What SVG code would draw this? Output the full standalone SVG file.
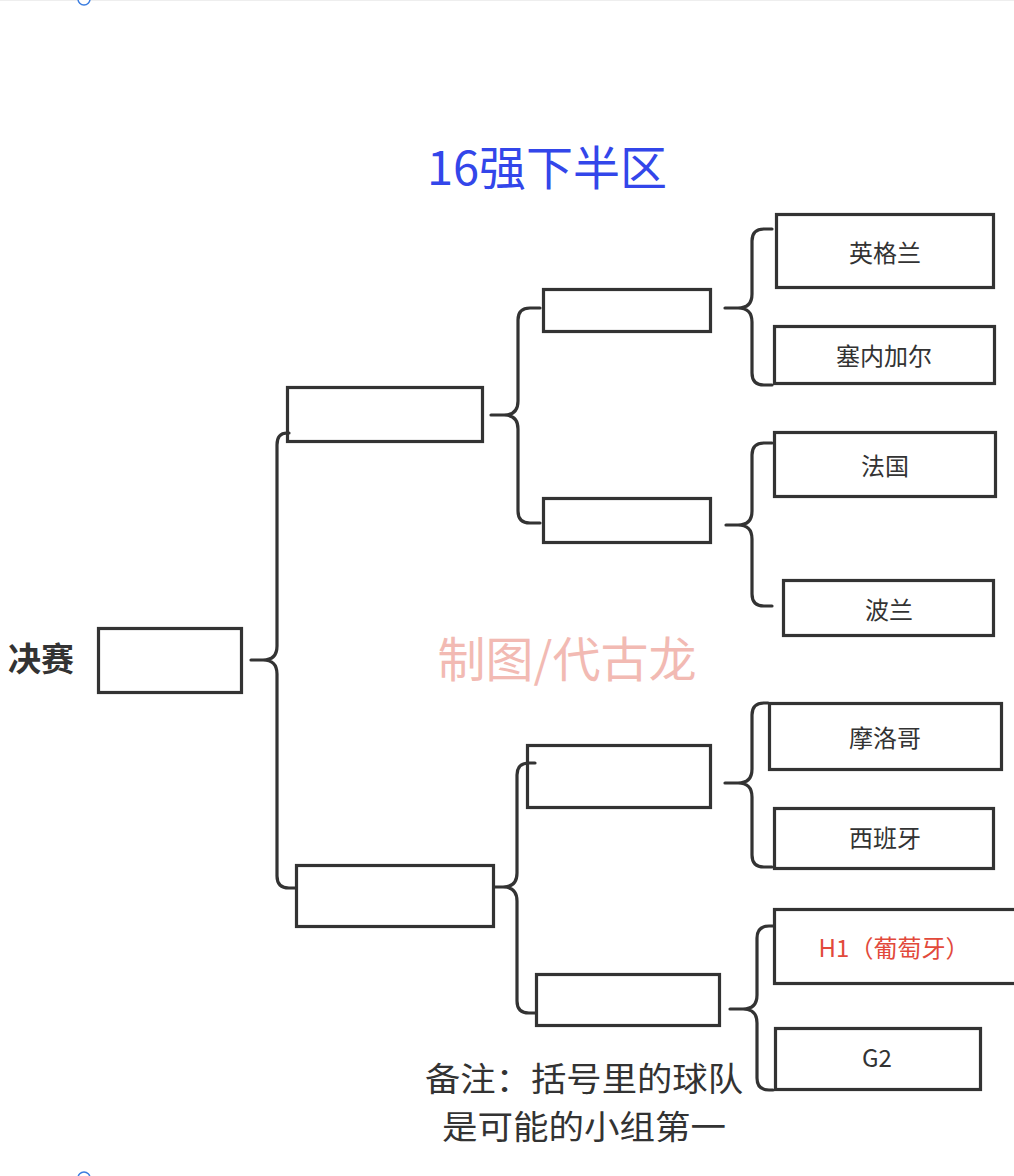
<svg xmlns="http://www.w3.org/2000/svg" width="1014" height="1176" viewBox="0 0 1014 1176">
<style>
.box{fill:#fff;stroke:#333;stroke-width:3.2}
.br{fill:none;stroke:#333;stroke-width:3.2;stroke-linecap:round;stroke-linejoin:round}
.t{font-family:"Noto Sans CJK SC","Noto Sans",sans-serif;font-size:24px;fill:#333;text-anchor:middle}
</style>
<rect x="0" y="0" width="1014" height="1176" fill="#fff"/>
<line x1="0" y1="0.5" x2="1014" y2="0.5" stroke="#eeeeee" stroke-width="1"/>
<circle cx="84" cy="-1" r="6" fill="#fff" stroke="#3b7de0" stroke-width="1.5"/>
<circle cx="84" cy="1178" r="6" fill="#fff" stroke="#3b7de0" stroke-width="1.5"/>
<text x="547" y="185" font-family="Noto Sans CJK SC, Noto Sans, sans-serif" font-size="47" fill="#3346ea" text-anchor="middle">16强下半区</text>
<text x="567" y="677" font-family="Noto Sans CJK SC, Noto Sans, sans-serif" font-size="48" fill="#f2bab3" text-anchor="middle">制图/代古龙</text>
<text x="8" y="671" font-family="Noto Sans CJK SC, Noto Sans, sans-serif" font-size="33" font-weight="bold" fill="#333">决赛</text>
<g id="nodes">
<g id="final"><rect class="box" x="98.5" y="628.5" width="143" height="64"/></g>
<g id="semi1"><rect class="box" x="287.5" y="387.5" width="195" height="54"/></g>
<g id="semi2"><rect class="box" x="296.5" y="865.5" width="197" height="61"/></g>
<g id="qf1"><rect class="box" x="543.5" y="289.5" width="167" height="42"/></g>
<g id="qf2"><rect class="box" x="543.5" y="498.5" width="167" height="44"/></g>
<g id="qf3"><rect class="box" x="527.5" y="745.5" width="183" height="62"/></g>
<g id="qf4"><rect class="box" x="536.5" y="974.5" width="183" height="51"/></g>
<g id="england"><rect class="box" x="776.5" y="214.5" width="217" height="73"/><text class="t" x="885" y="262">英格兰</text></g>
<g id="senegal"><rect class="box" x="774.5" y="326.5" width="220" height="57"/><text class="t" x="884" y="365">塞内加尔</text></g>
<g id="france"><rect class="box" x="774.5" y="432.5" width="221" height="64"/><text class="t" x="885" y="475">法国</text></g>
<g id="poland"><rect class="box" x="783.5" y="580.5" width="210" height="55"/><text class="t" x="889" y="619">波兰</text></g>
<g id="morocco"><rect class="box" x="769.5" y="703.5" width="232" height="66"/><text class="t" x="885" y="747">摩洛哥</text></g>
<g id="spain"><rect class="box" x="774.5" y="808.5" width="219" height="60"/><text class="t" x="885" y="847">西班牙</text></g>
<g id="h1"><rect class="box" x="774.5" y="909.5" width="250" height="74"/><text class="t" x="894" y="957" style="fill:#e2493b">H1（葡萄牙）</text></g>
<g id="g2"><rect class="box" x="775.5" y="1028.5" width="205" height="61"/><text class="t" x="877" y="1067">G2</text></g>
</g>
<g id="connectors">
<path class="br" d="M287,433 L289,433 M287,433 Q277,433 277,445 L277,646 Q277,660 263,660 L251,660 L263,660 Q277,660 277,674 L277,876 Q277,888 289,888 L295,888"/>
<path class="br" d="M540,308 L530,308 Q518,308 518,320 L518,401 Q518,415 504,415 L491,415 L504,415 Q518,415 518,429 L518,511 Q518,523 530,523 L540,523"/>
<path class="br" d="M535,763 L529,763 Q517,763 517,775 L517,873 Q517,887 503,887 L494,887 L503,887 Q517,887 517,901 L517,1001 Q517,1013 529,1013 L535,1013"/>
<path class="br" d="M772,229 L764,229 Q752,229 752,241 L752,294 Q752,308 738,308 L725,308 L738,308 Q752,308 752,322 L752,373 Q752,385 764,385 L772,385"/>
<path class="br" d="M772,443 L764,443 Q752,443 752,455 L752,511 Q752,525 738,525 L726,525 L738,525 Q752,525 752,539 L752,594 Q752,606 764,606 L772,606"/>
<path class="br" d="M768,703 L764,703 Q752,703 752,715 L752,769 Q752,783 738,783 L725,783 L738,783 Q752,783 752,797 L752,855 Q752,867 764,867 L772,867"/>
<path class="br" d="M773,926 L769,926 Q757,926 757,938 L757,995 Q757,1009 743,1009 L730,1009 L743,1009 Q757,1009 757,1023 L757,1078 Q757,1090 769,1090 L773,1090"/>
</g>
<g font-family="Noto Sans CJK SC, Noto Sans, sans-serif" font-size="33" fill="#333" text-anchor="middle">
<text x="584" y="1091" textLength="318" lengthAdjust="spacingAndGlyphs">备注：括号里的球队</text>
<text x="584" y="1139" textLength="284" lengthAdjust="spacingAndGlyphs">是可能的小组第一</text>
</g>
</svg>
